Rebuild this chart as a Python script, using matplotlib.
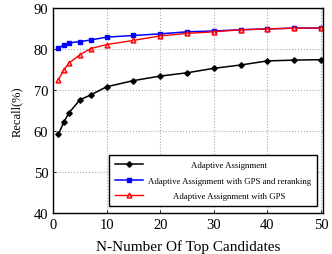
import matplotlib
matplotlib.use("Agg")
import matplotlib.pyplot as plt

x = [1, 2, 3, 5, 7, 10, 15, 20, 25, 30, 35, 40, 45, 50]
adaptive = [59.3, 62.3, 64.6, 67.7, 68.9, 70.9, 72.4, 73.5, 74.3, 75.4, 76.2, 77.2, 77.4, 77.5]
gps_rerank = [80.4, 81.0, 81.6, 81.9, 82.3, 83.0, 83.4, 83.8, 84.3, 84.5, 84.8, 85.0, 85.2, 85.2]
gps = [72.6, 75.1, 76.7, 78.7, 80.2, 81.2, 82.2, 83.3, 83.9, 84.3, 84.8, 85.0, 85.2, 85.2]
labels = ["Adaptive Assignment", "Adaptive Assignment with GPS and reranking", "Adaptive Assignment with GPS"]

plt.rcParams['font.family'] = ['Liberation Serif', 'DejaVu Serif']

fig = plt.figure(figsize=(3.32, 2.55), dpi=100)
ax = fig.add_axes([0.16, 0.159, 0.813, 0.804])

ax.plot(x, adaptive, color='black', marker='D', markersize=2.8, linewidth=1.1, label=labels[0])
ax.plot(x, gps_rerank, color='blue', marker='s', markersize=3.5, linewidth=1.1, label=labels[1])
ax.plot(x, gps, color='red', marker='^', markersize=3.5, markerfacecolor='#ffb0b0', linewidth=1.0, label=labels[2])

ax.set_xlim(0, 50.4)
ax.set_ylim(40, 90)
ax.set_xticks([0, 10, 20, 30, 40, 50])
ax.set_yticks([40, 50, 60, 70, 80, 90])
ax.tick_params(labelsize=10.5, direction='in', length=2, width=0.6)
ax.grid(True, linestyle=':', color='#aaaaaa', linewidth=0.8)
for s in ax.spines.values():
    s.set_linewidth(1.0)

ax.set_xlabel("N-Number Of Top Candidates", fontsize=11, labelpad=6)
ax.set_ylabel("Recall(%)", fontsize=9, labelpad=8)

leg = ax.legend(loc='lower right', bbox_to_anchor=(0.978, 0.037), fontsize=6.3,
                fancybox=False, edgecolor='black', framealpha=1,
                handlelength=3.2, handletextpad=0.6, borderpad=0.7,
                borderaxespad=0, labelspacing=0.8)
leg.get_frame().set_linewidth(1.0)
fig.canvas.draw()
renderer = fig.canvas.get_renderer()
widths = [t.get_window_extent(renderer).width for t in leg.get_texts()]
maxw = max(widths)
for t, w in zip(leg.get_texts(), widths):
    t.set_position(((maxw - w) / 2, 0))

fig.savefig("out.png", dpi=100)
